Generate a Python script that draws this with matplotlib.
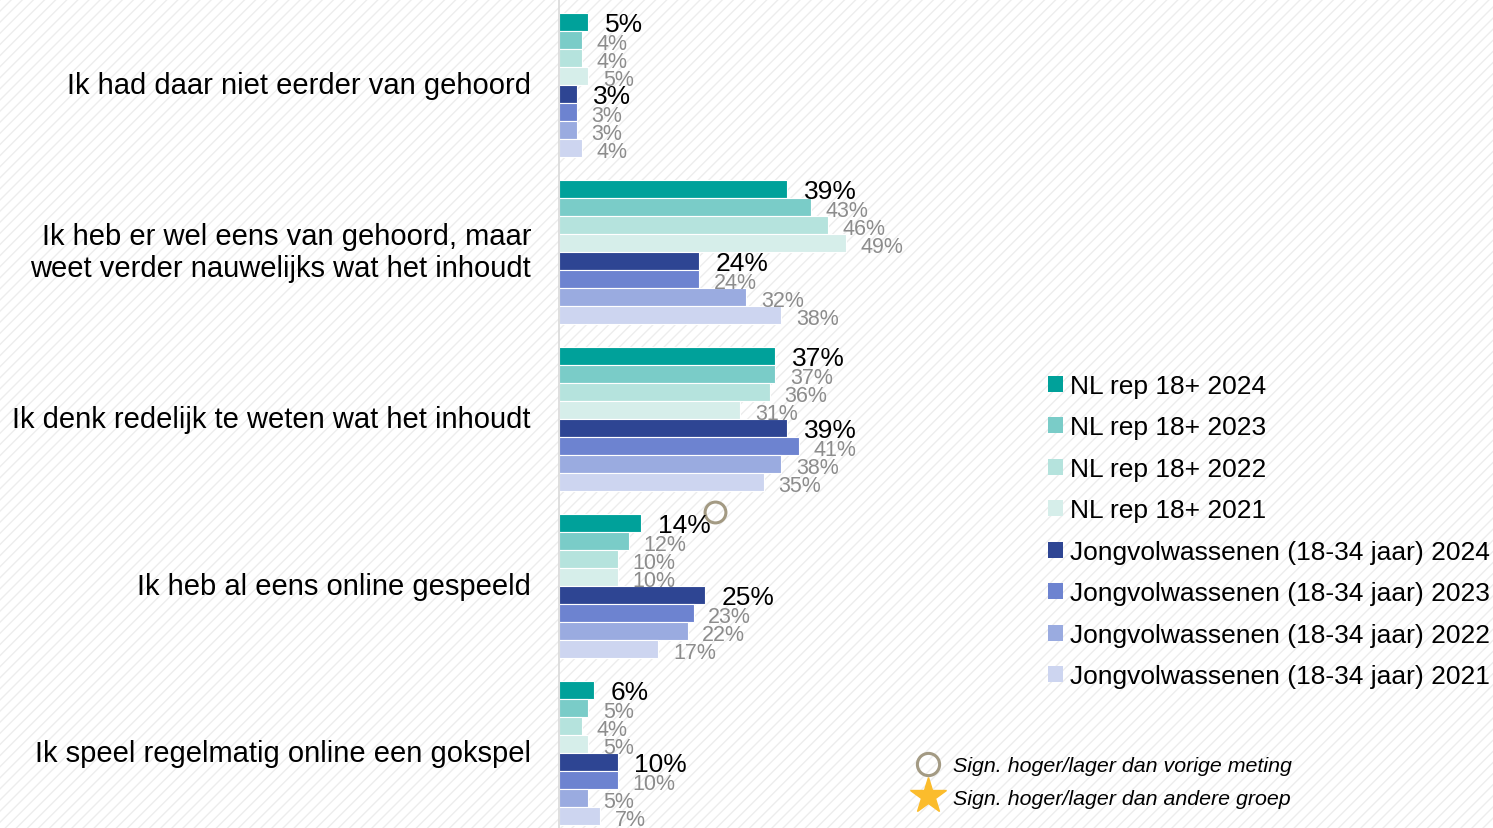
import numpy as np
import matplotlib
matplotlib.use("Agg")
import matplotlib.pyplot as plt
from matplotlib.patches import Rectangle, Patch
from matplotlib.lines import Line2D
from matplotlib.transforms import ScaledTranslation

plt.rcParams['font.family'] = ['Liberation Sans', 'DejaVu Sans']
plt.rcParams['hatch.linewidth'] = 1.0

# data
categories = [
    "Ik had daar niet eerder van gehoord",
    "Ik heb er wel eens van gehoord, maar\nweet verder nauwelijks wat het inhoudt",
    "Ik denk redelijk te weten wat het inhoudt",
    "Ik heb al eens online gespeeld",
    "Ik speel regelmatig online een gokspel",
]
series = [
    "NL rep 18+ 2024", "NL rep 18+ 2023", "NL rep 18+ 2022", "NL rep 18+ 2021",
    "Jongvolwassenen (18-34 jaar) 2024", "Jongvolwassenen (18-34 jaar) 2023",
    "Jongvolwassenen (18-34 jaar) 2022", "Jongvolwassenen (18-34 jaar) 2021",
]
nl_2024 = [5, 39, 37, 14, 6]
nl_2023 = [4, 43, 37, 12, 5]
nl_2022 = [4, 46, 36, 10, 4]
nl_2021 = [5, 49, 31, 10, 5]
jv_2024 = [3, 24, 39, 25, 10]
jv_2023 = [3, 24, 41, 23, 10]
jv_2022 = [3, 32, 38, 22, 5]
jv_2021 = [4, 38, 35, 17, 7]
values = [nl_2024, nl_2023, nl_2022, nl_2021, jv_2024, jv_2023, jv_2022, jv_2021]
# significant vs previous measurement: (category index, series index)
sign_prev = [(3, 0)]

colors = ['#00A19A', '#7ACCC8', '#B5E3DD', '#D6EEEA',
          '#2E4593', '#6D83D0', '#9AABE0', '#CDD5F0']

W, H = 1493, 829
fig = plt.figure(figsize=(W / 100, H / 100), dpi=100)

# faint diagonal striped background
bg = fig.add_axes([0, 0, 1, 1], zorder=0)
bg.axis('off')
bg.add_patch(Rectangle((0, 0), 1, 1, transform=bg.transAxes, facecolor='white',
                       edgecolor='#EDEDED', hatch='///', lw=0))

x0 = 559 / W
ax = fig.add_axes([x0, 0, 1 - x0, 1], zorder=1)
ax.patch.set_alpha(0)
px_per_pct = 5.85
ax.set_xlim(0, (W - 559) / px_per_pct)

group_step = 167 / 18
top = 23 / 18
ax.set_ylim(H / 18 - top, -top)

# marker shifted to the upper right of the bar end (past the value label)
sig_shift = ax.transData + ScaledTranslation(74 / 100, 11 / 100, fig.dpi_scale_trans)

for g, cat in enumerate(categories):
    for i, vals in enumerate(values):
        y = g * group_step + i
        v = vals[g]
        ax.barh(y, v, height=0.98, color=colors[i], edgecolor='white', linewidth=0.8)
        if i in (0, 4):
            ax.annotate(f"{v}%", (v, y), xytext=(12, -1.5), textcoords='offset points',
                        ha='left', va='center', fontsize=19, color='black', clip_on=False)
        else:
            ax.annotate(f"{v}%", (v, y), xytext=(10.5, -2.8), textcoords='offset points',
                        ha='left', va='center', fontsize=15.5, color='#8C8C8C', clip_on=False)
        if (g, i) in sign_prev:
            ax.plot([v], [y], marker='o', ms=15, mfc='none', mec='#A39A83', mew=2.2,
                    linestyle='none', transform=sig_shift, clip_on=False)
    ax.text(-28 / px_per_pct, g * group_step + 3.5, cat, ha='right', va='center',
            fontsize=21, linespacing=1.2)

ax.set_yticks([])
ax.set_xticks([])
for s in ['top', 'right', 'bottom']:
    ax.spines[s].set_visible(False)
ax.spines['left'].set_color('#D9D9D9')
ax.spines['left'].set_linewidth(1.2)

handles = [Patch(facecolor=c, edgecolor='none') for c in colors]
fig.legend(handles, series, loc='upper left', bbox_to_anchor=(1048 / W, 1 - 375 / H),
           frameon=False, fontsize=19, handlelength=0.55, handleheight=0.55,
           handletextpad=0.27, labelspacing=0.663, borderpad=0, borderaxespad=0)

sig_handles = [
    Line2D([], [], marker='o', ms=16, mfc='none', mec='#A39A83', mew=2.2, linestyle='none'),
    Line2D([], [], marker='*', ms=27, color='#FBBC2C', linestyle='none'),
]
sig_labels = ["Sign. hoger/lager dan vorige meting", "Sign. hoger/lager dan andere groep"]
fig.legend(sig_handles, sig_labels, loc='upper left', bbox_to_anchor=(917 / W, 1 - 757 / H),
           frameon=False, prop={'size': 15.4, 'style': 'italic'}, handlelength=1.0,
           handletextpad=0.7, labelspacing=0.64, borderpad=0, borderaxespad=0)

fig.savefig('out.png', dpi=100)
